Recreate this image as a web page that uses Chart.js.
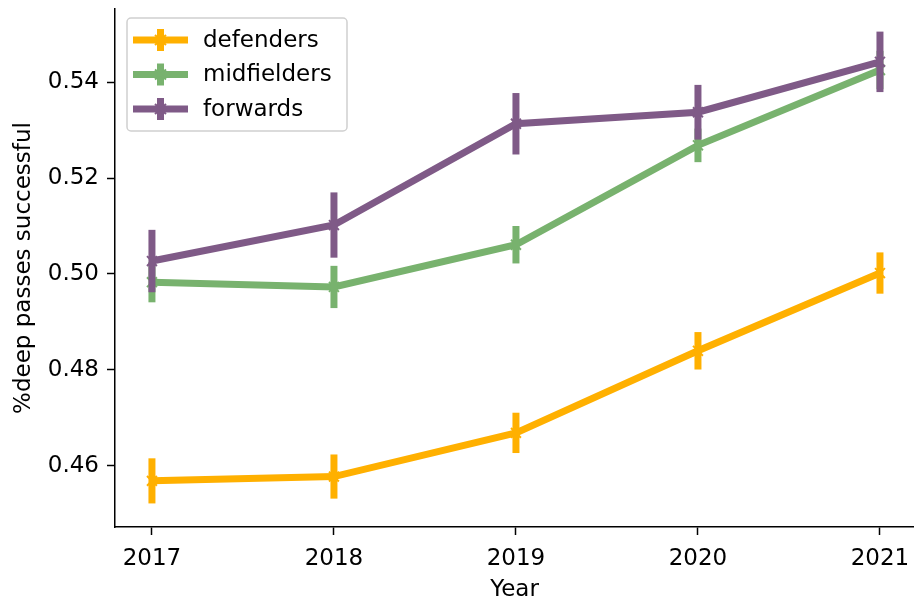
<!DOCTYPE html>
<html>
<head>
<meta charset="utf-8">
<script src="https://cdn.jsdelivr.net/npm/chart.js@4"></script>
<style>
  html, body { margin: 0; padding: 0; background: #fff; overflow: hidden; }
  /* a bit wider than the window: Chart.js keeps ~9px spare on the right for the point markers */
  #wrap { width: 923px; height: 601px; }
</style>
</head>
<body>
<div id="wrap"><canvas id="chart"></canvas></div>
<script>
// data
const years = [2017, 2018, 2019, 2020, 2021];
const yTicks = [0.46, 0.48, 0.50, 0.52, 0.54];

const defenders = [0.4569, 0.4578, 0.4669, 0.4840, 0.5002];
const defendersErr = [0.0047, 0.0046, 0.0042, 0.0039, 0.0043];

const midfielders = [0.4983, 0.4973, 0.5061, 0.5268, 0.5425];
const midfieldersErr = [0.0042, 0.0044, 0.0039, 0.0035, 0.0040];

const forwards = [0.5027, 0.5102, 0.5313, 0.5337, 0.5442];
const forwardsErr = [0.0065, 0.0068, 0.0064, 0.0057, 0.0063];

const FONT = 'DejaVu Sans';
const FSIZE = 23;
const colors = {
    defenders: 'rgb(255,176,0)',
    midfielders: 'rgb(120,178,110)',
    forwards: 'rgb(127,90,135)'
};

function makeSeries(label, values, errs, color, order) {
    return {
        label: label,
        data: years.map((y, i) => ({x: y, y: values[i]})),
        errors: errs,
        borderColor: color,
        backgroundColor: color,
        borderWidth: 7,
        pointStyle: 'crossRot',
        pointRadius: 7,
        pointBorderWidth: 2,
        pointBorderColor: color,
        tension: 0,
        order: order
    };
}

// vertical error bars, drawn with the chart's own scales
const errorBars = {
    id: 'errorBars',
    afterDatasetDraw(chart, args) {
        const ds = chart.data.datasets[args.index];
        const ys = chart.scales.y;
        const ctx = chart.ctx;
        ctx.save();
        ctx.strokeStyle = ds.borderColor;
        ctx.lineWidth = 7;
        args.meta.data.forEach((pt, i) => {
            const v = ds.data[i].y;
            const e = ds.errors[i];
            ctx.beginPath();
            ctx.moveTo(pt.x, ys.getPixelForValue(v - e));
            ctx.lineTo(pt.x, ys.getPixelForValue(v + e));
            ctx.stroke();
        });
        ctx.restore();
    }
};

// matplotlib-like legend box in the upper left
const boxLegend = {
    id: 'boxLegend',
    afterDraw(chart) {
        const ctx = chart.ctx;
        const x0 = 127, y0 = 18, w = 220, h = 113;
        ctx.save();
        ctx.fillStyle = 'rgba(255,255,255,0.85)';
        ctx.strokeStyle = '#d0d0d0';
        ctx.lineWidth = 1.5;
        ctx.beginPath();
        ctx.roundRect(x0, y0, w, h, 4);
        ctx.fill();
        ctx.stroke();
        chart.data.datasets.forEach((ds, i) => {
            const cy = 40 + i * 34.5;
            ctx.strokeStyle = ds.borderColor;
            ctx.lineWidth = 7;
            ctx.beginPath();
            ctx.moveTo(133, cy);
            ctx.lineTo(188, cy);
            ctx.stroke();
            ctx.beginPath();
            ctx.moveTo(160.5, cy - 11);
            ctx.lineTo(160.5, cy + 11);
            ctx.stroke();
            ctx.lineWidth = 2;
            ctx.beginPath();
            ctx.moveTo(155, cy - 5); ctx.lineTo(166, cy + 5);
            ctx.moveTo(155, cy + 5); ctx.lineTo(166, cy - 5);
            ctx.stroke();
            ctx.fillStyle = '#000';
            ctx.font = FSIZE + 'px "' + FONT + '"';
            ctx.textBaseline = 'middle';
            ctx.fillText(ds.label, 203, cy + 1);
        });
        ctx.restore();
    }
};

new Chart(document.getElementById('chart'), {
    type: 'line',
    data: {
        datasets: [
            makeSeries('defenders', defenders, defendersErr, colors.defenders, 3),
            makeSeries('midfielders', midfielders, midfieldersErr, colors.midfielders, 2),
            makeSeries('forwards', forwards, forwardsErr, colors.forwards, 1)
        ]
    },
    options: {
        responsive: true,
        maintainAspectRatio: false,
        animation: false,
        layout: { padding: { top: 8, right: 0, left: 0, bottom: 0 } },
        plugins: {
            legend: { display: false },
            tooltip: { enabled: false }
        },
        scales: {
            x: {
                type: 'linear',
                min: 2016.797,
                max: 2021.187,
                afterBuildTicks: scale => { scale.ticks = years.map(v => ({value: v})); },
                afterFit: scale => { scale.height = 74; },
                grid: { drawOnChartArea: false, drawTicks: true, tickLength: 8, tickColor: '#000', tickWidth: 1.5 },
                border: { display: true, color: '#000', width: 1.5 },
                ticks: {
                    color: '#000',
                    font: { family: FONT, size: FSIZE },
                    padding: 10,
                    maxRotation: 0,
                    callback: v => String(v)
                },
                title: {
                    display: true,
                    text: 'Year',
                    color: '#000',
                    font: { family: FONT, size: FSIZE },
                    padding: { top: 0, bottom: -3 }
                }
            },
            y: {
                min: 0.44729,
                max: 0.55521,
                afterBuildTicks: scale => { scale.ticks = yTicks.map(v => ({value: v})); },
                afterFit: scale => {
                    scale.width = 115;
                    scale.paddingTop = 0;
                    scale.paddingBottom = 0;
                },
                grid: { drawOnChartArea: false, drawTicks: true, tickLength: 8, tickColor: '#000', tickWidth: 1.5 },
                border: { display: true, color: '#000', width: 1.5 },
                ticks: {
                    color: '#000',
                    font: { family: FONT, size: FSIZE },
                    padding: 8,
                    callback: v => v.toFixed(2)
                },
                title: {
                    display: true,
                    text: '%deep passes successful',
                    color: '#000',
                    font: { family: FONT, size: FSIZE },
                    padding: { top: 10, bottom: 0 }
                }
            }
        }
    },
    plugins: [errorBars, boxLegend]
});
</script>
</body>
</html>
